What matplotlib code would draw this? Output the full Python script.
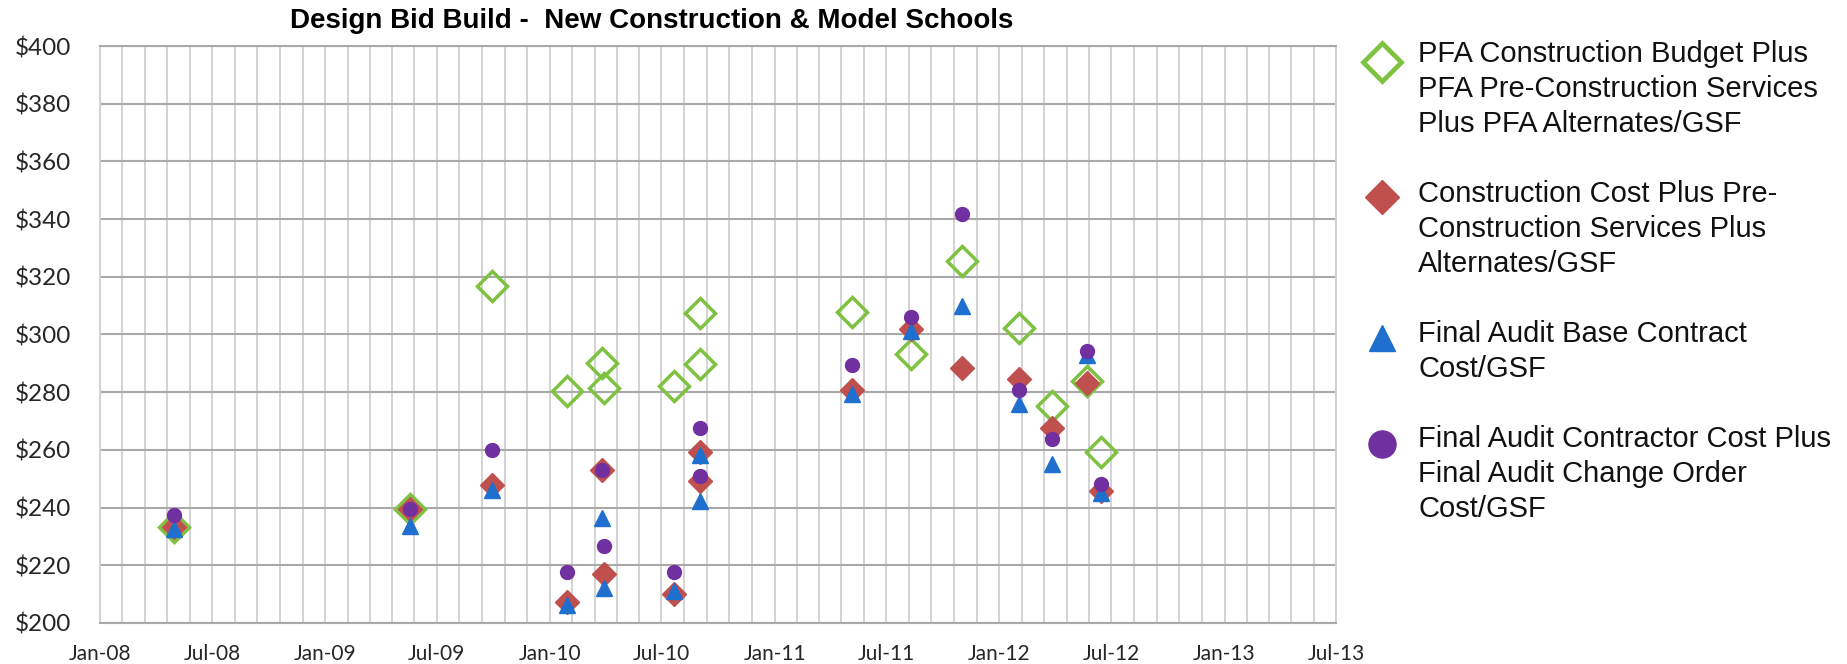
import datetime as dt
import numpy as np
import matplotlib
matplotlib.use("Agg")
import matplotlib.pyplot as plt
import matplotlib.dates as mdates

# one entry per school (bid date)
dates = ["2008-04-30", "2009-05-19", "2009-09-29", "2010-01-29", "2010-03-27",
         "2010-03-29", "2010-07-21", "2010-09-01", "2010-09-02", "2011-05-07",
         "2011-08-11", "2011-11-01", "2012-02-02", "2012-03-27", "2012-05-23",
         "2012-06-15"]
pfa_budget = [233.3, 239.5, 316.9, 280.5, 290.1, 281.3, 282.1, 307.4, 289.7,
              307.7, 293.3, 325.5, 302.3, 275.2, 283.8, 259.4]
constr_cost = [233.3, 239.5, 247.9, 207.4, 253.1, 216.9, 210.0, 259.4, 249.1,
               280.7, 302.0, 288.5, 284.7, 267.7, 283.2, 245.6]
audit_base = [232.6, 233.6, 246.2, 206.2, 236.4, 212.3, 211.2, 258.3, 242.2,
              279.3, 301.2, 310.0, 275.9, 255.2, 293.0, 245.1]
audit_total = [237.6, 239.5, 260.0, 217.8, 253.1, 226.7, 217.8, 267.7, 250.8,
               289.3, 305.9, 341.6, 280.7, 263.7, 294.3, 248.3]

labels = [
    "PFA Construction Budget Plus\nPFA Pre-Construction Services\nPlus PFA Alternates/GSF",
    "Construction Cost Plus Pre-\nConstruction Services Plus\nAlternates/GSF",
    "Final Audit Base Contract\nCost/GSF",
    "Final Audit Contractor Cost Plus\nFinal Audit Change Order\nCost/GSF",
]
title = "Design Bid Build -  New Construction & Model Schools"
y_ticks = [200, 220, 240, 260, 280, 300, 320, 340, 360, 380, 400]

GREEN = "#7fc241"
RED = "#c0504d"
BLUE = "#1f6fcf"
PURPLE = "#7030a0"
HGRID = "#a9a9a9"
VGRID = "#d0d0d0"

W, H = 1847, 664
fig = plt.figure(figsize=(W / 100, H / 100), dpi=100)
ax = fig.add_axes([100 / W, 1 - 623 / H, 1236 / W, 577 / H])

x = mdates.date2num([dt.datetime.strptime(d, "%Y-%m-%d") for d in dates])

ax.plot(x, pfa_budget, ls="none", marker="D", ms=15, mfc="none", mec=GREEN, mew=2.5, zorder=3)
ax.plot(x, constr_cost, ls="none", marker="D", ms=12.5, mfc=RED, mec=RED, zorder=4)
ax.plot(x, audit_base, ls="none", marker="^", ms=11, mfc=BLUE, mec=BLUE, zorder=5)
ax.plot(x, audit_total, ls="none", marker="o", ms=10, mfc=PURPLE, mec=PURPLE, zorder=6)

# x axis: labels every half year, gridlines five per half year
majors = []
for yr in range(2008, 2014):
    for mo in (1, 7):
        majors.append(mdates.date2num(dt.datetime(yr, mo, 1)))
majors = majors[:12]
minors = []
for a, b in zip(majors[:-1], majors[1:]):
    minors.extend(np.linspace(a, b, 6)[1:-1])
ax.set_xlim(majors[0], majors[-1])
ax.set_xticks(majors)
ax.set_xticks(minors, minor=True)
ax.xaxis.set_major_formatter(mdates.DateFormatter("%b-%y"))

ax.set_ylim(200, 400)
ax.set_yticks(y_ticks)
ax.set_yticklabels([f"${v}" for v in y_ticks])

ax.grid(True, axis="x", which="both", color=VGRID, lw=1.3, zorder=0)
ax.grid(True, axis="y", which="major", color=HGRID, lw=1.5, zorder=1)
ax.set_axisbelow(True)
for s in ("top", "bottom"):
    ax.spines[s].set_color(HGRID)
    ax.spines[s].set_linewidth(1.5)
for s in ("left", "right"):
    ax.spines[s].set_color(VGRID)
    ax.spines[s].set_linewidth(1.3)

ax.tick_params(axis="both", which="both", length=0)
ax.tick_params(axis="y", pad=21, labelsize=17.5, labelcolor="#262626")
ax.tick_params(axis="x", pad=15, labelsize=15, labelcolor="#262626")
for t in ax.get_xticklabels() + ax.get_yticklabels():
    t.set_family(["Lato", "DejaVu Sans"])

fig.text(652 / W, 1 - 21 / H, title, ha="center", va="center", fontsize=20,
         fontweight="bold", family=["Liberation Sans Narrow", "Liberation Sans", "DejaVu Sans"])

# legend drawn by hand so the marker sits beside the first line of each label
lax = fig.add_axes([0, 0, 1, 1])
lax.set_xlim(0, W)
lax.set_ylim(H, 0)
lax.axis("off")
styles = [
    dict(marker="D", ms=19.5, mfc="none", mec=GREEN, mew=3.4),
    dict(marker="D", ms=17.5, mfc=RED, mec=RED),
    dict(marker="^", ms=19, mfc=BLUE, mec=BLUE),
    dict(marker="o", ms=19.5, mfc=PURPLE, mec=PURPLE),
]
first_line = [0, 4, 8, 11]
marker_dy = [8, 3, 4, 5]
for lab, st, k, dy in zip(labels, styles, first_line, marker_dy):
    y0 = 54 + 35 * k
    lax.plot([1382], [y0 + dy], ls="none", **st)
    for j, line in enumerate(lab.split("\n")):
        lax.text(1418, y0 + 35 * j, line, ha="left", va="center", fontsize=21,
                 family=["Liberation Sans", "DejaVu Sans"], color="#111111")

fig.savefig("out.png", dpi=100)
